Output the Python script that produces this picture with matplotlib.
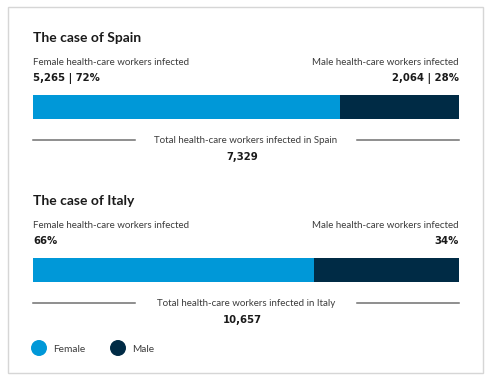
import numpy as np
import matplotlib
matplotlib.use("Agg")
from matplotlib import pyplot as plt
from matplotlib.patches import Rectangle

# data
countries = ["Spain", "Italy"]
female_pct = [72, 66]
male_pct = [28, 34]
female_label = ["5,265 | 72%", "66%"]
male_label = ["2,064 | 28%", "34%"]
totals = ["7,329", "10,657"]

blue = "#0098d8"
navy = "#002b45"
grey = "#3c3c3c"
dark = "#1a1a1a"

plt.rcParams['font.family'] = ['Lato', 'DejaVu Sans']
numfont = dict(family='DejaVu Sans', fontsize=7.3, fontweight='bold', color=dark)

W, H = 491, 381
fig = plt.figure(figsize=(W/100, H/100), dpi=100)
ax = fig.add_axes([0, 0, 1, 1])
ax.set_xlim(0, W)
ax.set_ylim(H, 0)
ax.axis('off')

ax.add_patch(Rectangle((8, 7), 475, 366, fill=False, edgecolor='#d6d6d6', lw=1))

x0, x1 = 33, 459
bar_h = 24
offs = [0, 163]   # vertical shift of each block

for i, c in enumerate(countries):
    o = offs[i]
    ax.text(x0, 42+o, "The case of " + c, fontsize=10, fontweight='bold', color=dark, va='baseline')
    ax.text(x0, 65+o, "Female health-care workers infected", fontsize=7, color=grey, va='baseline')
    ax.text(x1, 65+o, "Male health-care workers infected", fontsize=7, color=grey, va='baseline', ha='right')
    ax.text(x0, 81+o, female_label[i], va='baseline', **numfont)
    ax.text(x1, 81+o, male_label[i], va='baseline', ha='right', **numfont)

    # bar in its own axes, 0-100 %
    top = 95 + o
    bx = fig.add_axes([x0/W, 1 - (top+bar_h)/H, (x1-x0)/W, bar_h/H])
    bx.barh([0], [female_pct[i]], height=1, color=blue)
    bx.barh([0], [male_pct[i]], left=[female_pct[i]], height=1, color=navy)
    bx.set_xlim(0, 100)
    bx.set_ylim(-0.5, 0.5)
    bx.axis('off')

    ly = 140 + o
    ax.plot([x0, 135], [ly, ly], color='#707070', lw=1.1)
    ax.plot([357, x1], [ly, ly], color='#707070', lw=1.1)
    ax.text(246, ly+3, "Total health-care workers infected in " + c, fontsize=7, color=grey,
            va='baseline', ha='center')
    ax.text(242, ly+20, totals[i], va='baseline', ha='center', **numfont)

# legend
ax.scatter([39, 118], [348, 348], s=110, c=[blue, navy])
ax.text(53, 352, "Female", fontsize=7.3, color=grey, va='baseline')
ax.text(132, 352, "Male", fontsize=7.3, color=grey, va='baseline')

fig.savefig("out.png", dpi=100)
